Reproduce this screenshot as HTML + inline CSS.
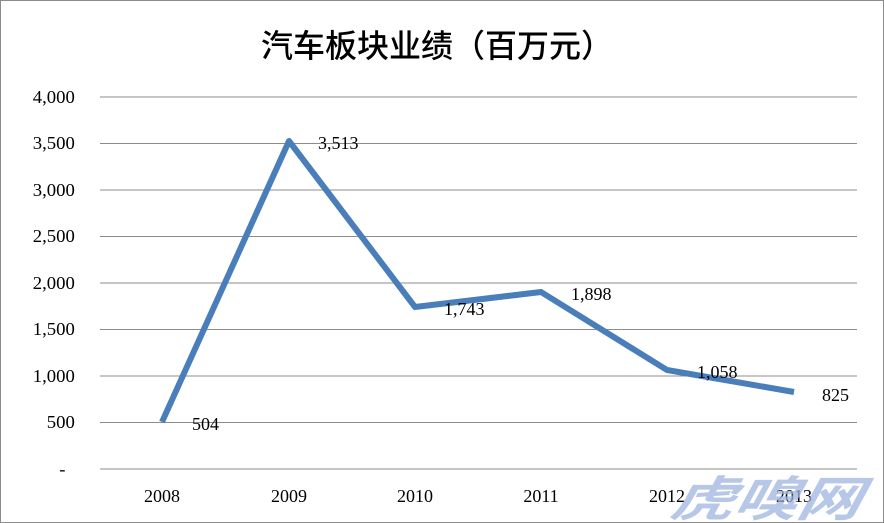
<!DOCTYPE html>
<html><head><meta charset="utf-8"><style>
body{margin:0;background:#fff;}
svg{display:block;}
</style></head><body>
<svg width="884" height="523" viewBox="0 0 884 523" xmlns="http://www.w3.org/2000/svg">
<rect x="0.5" y="0.5" width="883" height="522" fill="#fff" stroke="#8c8c8c"/>
<text x="437" y="57" text-anchor="middle" font-family="'Noto Sans CJK SC','WenQuanYi Zen Hei',sans-serif" font-size="32" font-weight="500" fill="#000">汽车板块业绩（百万元）</text>
<g stroke="#8c8c8c" stroke-width="1">
<line x1="100" y1="97" x2="857" y2="97"/>
<line x1="100" y1="143.5" x2="857" y2="143.5"/>
<line x1="100" y1="190" x2="857" y2="190"/>
<line x1="100" y1="236.5" x2="857" y2="236.5"/>
<line x1="100" y1="283" x2="857" y2="283"/>
<line x1="100" y1="329.5" x2="857" y2="329.5"/>
<line x1="100" y1="376" x2="857" y2="376"/>
<line x1="100" y1="422.5" x2="857" y2="422.5"/>
<line x1="100" y1="469" x2="857" y2="469"/>
</g>
<g font-family="'Liberation Serif',serif" font-size="18" fill="#000" text-anchor="end" transform="scale(1.04,1)">
<text x="72" y="103">4,000</text>
<text x="72" y="149">3,500</text>
<text x="72" y="196">3,000</text>
<text x="72" y="242">2,500</text>
<text x="72" y="289">2,000</text>
<text x="72" y="335">1,500</text>
<text x="72" y="382">1,000</text>
<text x="72" y="428">500</text>
<text x="63" y="475">-</text>
</g>
<g font-family="'Liberation Serif',serif" font-size="18" fill="#000" text-anchor="middle">
<text x="162" y="502">2008</text>
<text x="289" y="502">2009</text>
<text x="415" y="502">2010</text>
<text x="541" y="502">2011</text>
<text x="667" y="502">2012</text>
<text x="794" y="502">2013</text>
</g>
<polyline points="162,422 289,141 415,307 541,292 667,370 794,392" fill="none" stroke="#4a7ebb" stroke-width="6" stroke-linejoin="round"/>
<g font-family="'Liberation Serif',serif" font-size="18" fill="#000">
<text x="192" y="430">504</text>
<text x="318" y="149">3,513</text>
<text x="444" y="315">1,743</text>
<text x="571" y="300">1,898</text>
<text x="697" y="378">1,058</text>
<text x="822" y="401">825</text>
</g>
<text x="668" y="516" textLength="190" lengthAdjust="spacingAndGlyphs" font-family="'Noto Sans CJK SC',sans-serif" font-size="48" font-weight="bold" font-style="italic" fill="#9fb4e0" fill-opacity="0.75" transform="skewX(-12) translate(110,0)">虎嗅网</text>
</svg>
</body></html>
